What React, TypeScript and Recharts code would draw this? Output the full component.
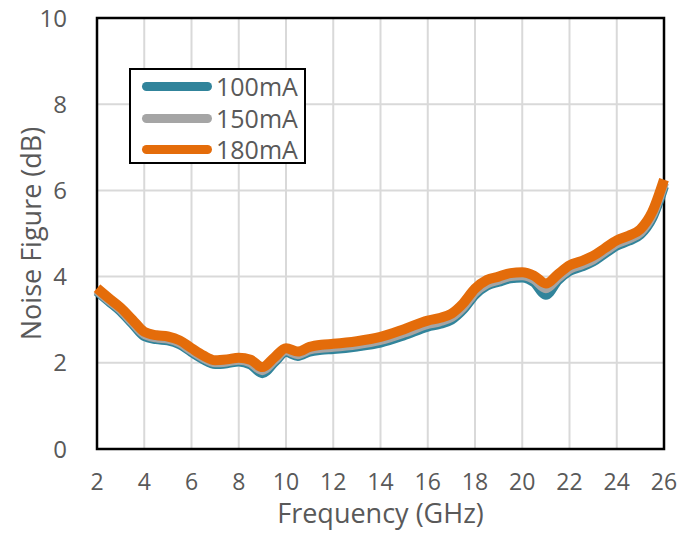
import React from "react";
import { LineChart, Line, XAxis, YAxis, CartesianGrid, ReferenceArea } from "recharts";

const FREQ = [
  2, 2.5, 3, 3.5, 4, 4.5, 5, 5.5, 6, 6.5, 7, 7.5, 8, 8.5, 9, 9.5, 10, 10.5, 11, 11.5, 12, 13, 14, 15,
  16, 16.5, 17, 17.5, 18, 18.5, 19, 19.5, 20, 20.5, 21, 21.5, 22, 22.5, 23, 23.5, 24, 24.5, 25, 25.5, 26,
];

const NF_180 = [
  3.73, 3.5, 3.28, 3.0, 2.72, 2.64, 2.61, 2.52, 2.34, 2.17, 2.06, 2.08, 2.12, 2.07, 1.9, 2.12, 2.34, 2.26,
  2.37, 2.42, 2.44, 2.5, 2.6, 2.78, 2.98, 3.04, 3.14, 3.38, 3.72, 3.92, 4.0, 4.08, 4.1, 4.02, 3.84, 4.05,
  4.26, 4.36, 4.48, 4.66, 4.84, 4.95, 5.1, 5.5, 6.25,
];

const NF_150 = [
  3.69, 3.46, 3.24, 2.95, 2.67, 2.59, 2.56, 2.47, 2.29, 2.12, 2.01, 2.03, 2.07, 2.01, 1.83, 2.06, 2.29, 2.2,
  2.31, 2.35, 2.37, 2.43, 2.53, 2.7, 2.9, 2.96, 3.06, 3.3, 3.64, 3.84, 3.93, 4.01, 4.03, 3.94, 3.73, 3.97,
  4.18, 4.28, 4.4, 4.59, 4.77, 4.88, 5.03, 5.43, 6.18,
];

const NF_100 = [
  3.66, 3.43, 3.2, 2.91, 2.62, 2.55, 2.52, 2.43, 2.25, 2.08, 1.97, 1.99, 2.03, 1.96, 1.76, 2.01, 2.25, 2.16,
  2.26, 2.3, 2.32, 2.38, 2.47, 2.64, 2.84, 2.9, 3.0, 3.24, 3.58, 3.79, 3.88, 3.96, 3.98, 3.87, 3.58, 3.91,
  4.13, 4.23, 4.35, 4.54, 4.72, 4.83, 4.98, 5.36, 6.1,
];

const X_TICKS = [2, 4, 6, 8, 10, 12, 14, 16, 18, 20, 22, 24, 26];
const Y_TICKS = [0, 2, 4, 6, 8, 10];

const SERIES = [
  { key: "nf100", name: "100mA", color: "#31849B" },
  { key: "nf150", name: "150mA", color: "#A5A5A5" },
  { key: "nf180", name: "180mA", color: "#E46C0A" },
];

const data = FREQ.map((f, i) => ({
  freq: f,
  nf100: NF_100[i],
  nf150: NF_150[i],
  nf180: NF_180[i],
}));

const FONT = "'Open Sans', sans-serif";
const TEXT = "#595959";

// legend drawn as an overlay box in the upper-left of the plot
function LegendBox() {
  return (
    <div
      style={{
        position: "absolute",
        left: 129,
        top: 68,
        border: "2px solid #000",
        background: "#fff",
        width: 173,
        height: 91,
        paddingTop: 1,
        boxSizing: "content-box",
      }}
    >
      {SERIES.map((s) => (
        <div key={s.key} style={{ display: "flex", alignItems: "center", height: 31.5 }}>
          <div
            style={{
              marginLeft: 11,
              width: 70,
              height: 9,
              borderRadius: 5,
              background: s.color,
            }}
          />
          <span style={{ marginLeft: 4, fontSize: 25, color: TEXT, fontFamily: FONT, lineHeight: 1 }}>
            {s.name}
          </span>
        </div>
      ))}
    </div>
  );
}

// eslint-disable-next-line @typescript-eslint/no-explicit-any
function YTitle({ viewBox }: any) {
  const x = viewBox.x + 30;
  const y = viewBox.y + viewBox.height / 2;
  return (
    <text
      x={x}
      y={y}
      transform={`rotate(-90 ${x} ${y})`}
      textAnchor="middle"
      dominantBaseline="central"
      fill={TEXT}
      fontSize={27}
      fontFamily={FONT}
    >
      Noise Figure (dB)
    </text>
  );
}

export default function App() {
  return (
    <div style={{ position: "absolute", left: 0, top: 0, width: 695, height: 533, background: "#fff" }}>
      <LineChart width={695} height={533} data={data} margin={{ top: 18, right: 31, bottom: 0, left: 0 }}>
        <CartesianGrid stroke="#D9D9D9" strokeWidth={2} />
        <XAxis
          dataKey="freq"
          type="number"
          domain={[2, 26]}
          ticks={X_TICKS}
          tickSize={0}
          tickMargin={25}
          axisLine={false}
          tickLine={false}
          height={84}
          tick={{ fontSize: 23, fill: TEXT, fontFamily: FONT }}
          label={{
            value: "Frequency (GHz)",
            position: "insideBottom",
            offset: 10,
            fontSize: 27,
            fill: TEXT,
            fontFamily: FONT,
          }}
        />
        <YAxis
          type="number"
          domain={[0, 10]}
          ticks={Y_TICKS}
          tickSize={0}
          tickMargin={30}
          axisLine={false}
          tickLine={false}
          width={97}
          tick={{ fontSize: 24, fill: TEXT, fontFamily: FONT }}
          label={<YTitle />}
        />
        <ReferenceArea x1={2} x2={26} y1={0} y2={10} fill="none" stroke="#000" strokeWidth={2.5} ifOverflow="visible" />
        {SERIES.map((s) => (
          <Line
            key={s.key}
            type="monotone"
            dataKey={s.key}
            name={s.name}
            stroke={s.color}
            strokeWidth={10}
            dot={false}
            isAnimationActive={false}
          />
        ))}
      </LineChart>
      <LegendBox />
    </div>
  );
}
